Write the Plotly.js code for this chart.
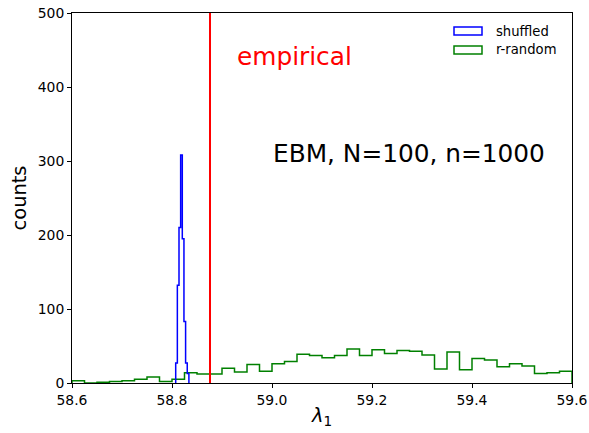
<!DOCTYPE html>
<html>
<head>
<meta charset="utf-8">
<script src="https://cdn.plot.ly/plotly-3.0.1.min.js"></script>
<style>html,body{margin:0;padding:0;background:#fff;}#chart{width:589px;height:433px;}</style>
</head>
<body>
<div id="chart"></div>
<script>
// r-random histogram: bin edges (41) and counts (40)
const rrandomEdges = [58.600, 58.625, 58.650, 58.675, 58.700, 58.725, 58.750, 58.775, 58.800, 58.825,
  58.850, 58.875, 58.900, 58.925, 58.950, 58.975, 59.000, 59.025, 59.050, 59.075,
  59.100, 59.125, 59.150, 59.175, 59.200, 59.225, 59.250, 59.275, 59.300, 59.325,
  59.350, 59.375, 59.400, 59.425, 59.450, 59.475, 59.500, 59.525, 59.550, 59.575, 59.600];
const rrandomCounts = [3, 0, 1, 2, 3, 5, 8, 2, 5, 14,
  12, 12, 20, 15, 25, 16, 26, 29, 39, 37,
  34, 37, 46, 37, 45, 40, 44, 43, 38, 19,
  42, 18, 33, 31, 22, 26, 23, 13, 14, 16];

// shuffled histogram: bin edges (9) and counts (8)
const shuffledEdges = [58.8074, 58.8107, 58.8140, 58.8173, 58.8206, 58.8239, 58.8272, 58.8305, 58.8338];
const shuffledCounts = [27, 132, 210, 308, 195, 83, 27, 13];

// empirical value
const empiricalValue = 58.876;

const seriesNames = ["shuffled", "r-random"];
const xTicks = [58.6, 58.8, 59.0, 59.2, 59.4, 59.6];
const yTicks = [0, 100, 200, 300, 400, 500];

function stepXY(edges, counts) {
  const n = counts.length;
  const x = [edges[0]].concat(edges.slice(0, n), [edges[n]]);
  const y = [0].concat(counts, [0]);
  return {x, y};
}

const g = stepXY(rrandomEdges, rrandomCounts);
const b = stepXY(shuffledEdges, shuffledCounts);

const FONT = "DejaVu Sans, Liberation Sans, sans-serif";

const traces = [
  {type: "scatter", mode: "lines", x: g.x, y: g.y, line: {shape: "hv", color: "#008000", width: 1.5}, name: seriesNames[1], showlegend: false, hoverinfo: "skip"},
  {type: "scatter", mode: "lines", x: b.x, y: b.y, line: {shape: "hv", color: "#0000ff", width: 1.5}, name: seriesNames[0], showlegend: false, hoverinfo: "skip"},
  {type: "scatter", mode: "lines", x: [empiricalValue, empiricalValue], y: [yTicks[0], yTicks[yTicks.length - 1]], line: {color: "#ff0000", width: 2}, showlegend: false, hoverinfo: "skip"}
];

const layout = {
  width: 589, height: 433,
  margin: {l: 72, r: 17, t: 13, b: 50},
  paper_bgcolor: "#ffffff", plot_bgcolor: "#ffffff",
  font: {family: FONT, size: 13.9, color: "#000000"},
  showlegend: false,
  xaxis: {
    range: [58.6, 59.6], tickvals: xTicks, ticktext: xTicks.map(v => v.toFixed(1)),
    showgrid: false, zeroline: false, showline: true, mirror: true, linecolor: "#000", linewidth: 1,
    ticks: "outside", ticklen: 4, tickwidth: 1, tickcolor: "#000",
    title: {text: "<i>λ</i><sub>1</sub>", font: {size: 19.4, family: FONT}, standoff: 1},
    automargin: false
  },
  yaxis: {
    range: [0, 500], tickvals: yTicks, ticktext: yTicks.map(String),
    showgrid: false, zeroline: false, showline: true, mirror: true, linecolor: "#000", linewidth: 1,
    ticks: "outside", ticklen: 4, tickwidth: 1, tickcolor: "#000",
    title: {text: "counts", font: {size: 19.4, family: FONT}, standoff: 5},
    automargin: false
  },
  annotations: [
    {x: 58.925, y: 441, xref: "x", yref: "y", text: "empirical", showarrow: false, xanchor: "left", yanchor: "middle", font: {size: 24.8, color: "#ff0000", family: FONT}},
    {x: 58.998, y: 310, xref: "x", yref: "y", text: "EBM, N=100, n=1000", showarrow: false, xanchor: "left", yanchor: "middle", font: {size: 24.8, color: "#000000", family: FONT}},
    {x: 0.844, y: 0.951, xref: "paper", yref: "paper", text: seriesNames[0], showarrow: false, xanchor: "left", yanchor: "middle", font: {size: 13.2, family: FONT}},
    {x: 0.844, y: 0.900, xref: "paper", yref: "paper", text: seriesNames[1], showarrow: false, xanchor: "left", yanchor: "middle", font: {size: 13.2, family: FONT}}
  ],
  shapes: [
    {type: "rect", xref: "paper", yref: "paper", x0: 0.764, x1: 0.82, y0: 0.9405, y1: 0.962, line: {color: "#0000ff", width: 1.5}, fillcolor: "rgba(0,0,0,0)"},
    {type: "rect", xref: "paper", yref: "paper", x0: 0.764, x1: 0.82, y0: 0.889, y1: 0.911, line: {color: "#008000", width: 1.5}, fillcolor: "rgba(0,0,0,0)"}
  ]
};

Plotly.newPlot("chart", traces, layout, {staticPlot: true, displayModeBar: false});
</script>
</body>
</html>
